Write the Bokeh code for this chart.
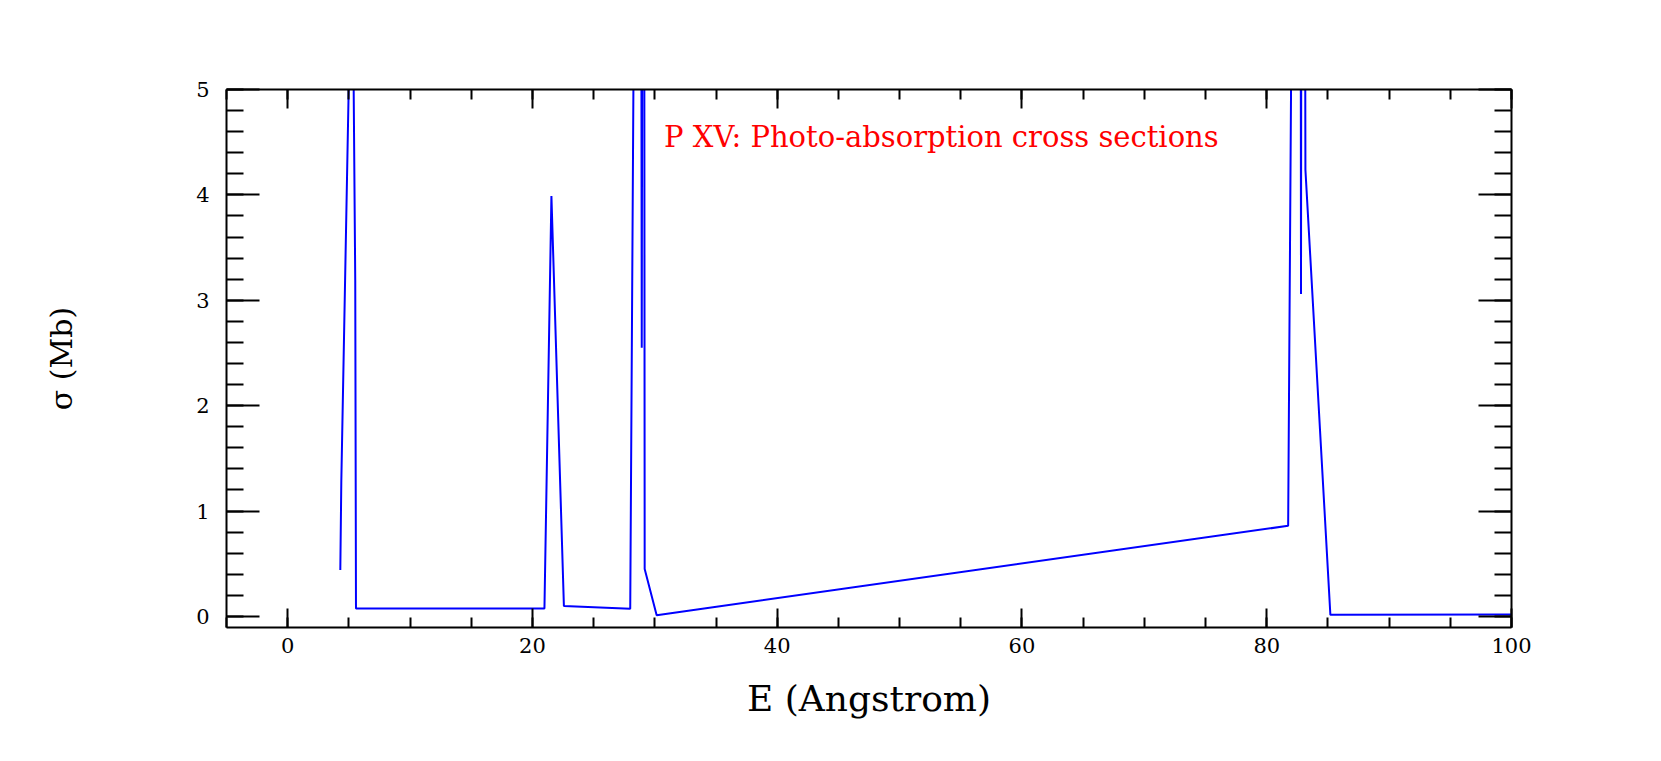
from bokeh.plotting import figure
from bokeh.models import LinearAxis, SingleIntervalTicker, Range1d, Label
from bokeh.embed import file_html
from bokeh.resources import INLINE

# Photo-absorption cross section of P XV (values above 5 Mb run off the top of the plot)
energy = [4.30, 4.38, 5.08, 5.35, 5.52, 5.58, 20.98, 21.55, 22.57, 27.99, 28.28,
          28.90, 28.93, 28.97, 29.14, 29.17, 30.15, 81.75, 82.02, 82.78, 82.80,
          82.82, 83.14, 83.16, 85.20, 100.0]
sigma = [0.44, 1.27, 5.6, 5.6, 3.19, 0.076, 0.076, 3.99, 0.10, 0.073, 5.6,
         5.6, 2.55, 5.6, 5.6, 0.45, 0.012, 0.86, 5.6, 5.6, 3.06,
         5.6, 5.6, 4.24, 0.015, 0.018]

x_label = "E (Angstrom)"
y_label = "σ (Mb)"
annotation = "P XV: Photo-absorption cross sections"

SERIF = "DejaVu Serif"

p = figure(width=1645, height=745, output_backend="svg", toolbar_location=None,
           x_range=Range1d(-5, 100), y_range=Range1d(-0.105, 5),
           x_axis_location=None, y_axis_location=None,
           min_border_left=226, min_border_right=134,
           min_border_top=89, min_border_bottom=118,
           background_fill_color="white", border_fill_color="white")
p.outline_line_color = None
p.xgrid.visible = False
p.ygrid.visible = False


def style(ax, major_len, minor_len, show_labels):
    ax.axis_line_width = 2
    ax.axis_line_color = "black"
    ax.major_tick_in = major_len
    ax.major_tick_out = 0
    ax.minor_tick_in = minor_len
    ax.minor_tick_out = 0
    ax.major_tick_line_width = 2
    ax.minor_tick_line_width = 2
    ax.major_tick_line_color = "black"
    ax.minor_tick_line_color = "black"
    ax.major_label_text_font = SERIF
    ax.major_label_text_font_size = "21px"
    ax.major_label_text_color = "black"
    if not show_labels:
        ax.major_label_text_font_size = "0px"
        ax.major_label_text_alpha = 0


def xticker():
    return SingleIntervalTicker(interval=20, num_minor_ticks=4)


def yticker():
    return SingleIntervalTicker(interval=1, num_minor_ticks=5)


bottom = LinearAxis(ticker=xticker(), axis_label=x_label)
style(bottom, 19, 10, True)
bottom.major_label_standoff = 10
bottom.axis_label_standoff = 22
bottom.axis_label_text_font = SERIF
bottom.axis_label_text_font_size = "36px"
bottom.axis_label_text_font_style = "normal"
bottom.axis_label_text_color = "black"
p.add_layout(bottom, "below")

top = LinearAxis(ticker=xticker())
style(top, 19, 10, False)
p.add_layout(top, "above")

left = LinearAxis(ticker=yticker(), axis_label=y_label)
style(left, 33, 17, True)
left.major_label_standoff = 17
left.axis_label_standoff = 114
left.axis_label_text_font = SERIF
left.axis_label_text_font_size = "30px"
left.axis_label_text_font_style = "normal"
left.axis_label_text_color = "black"
p.add_layout(left, "left")

right = LinearAxis(ticker=yticker())
style(right, 33, 17, False)
p.add_layout(right, "right")

p.line(energy, sigma, line_color="#0000ff", line_width=2)

p.add_layout(Label(x=30.75, y=4.55, text=annotation, text_color="red",
                   text_font=SERIF, text_font_size="29px",
                   text_baseline="middle", text_align="left"))

open("out.html", "w").write(file_html(p, INLINE))
